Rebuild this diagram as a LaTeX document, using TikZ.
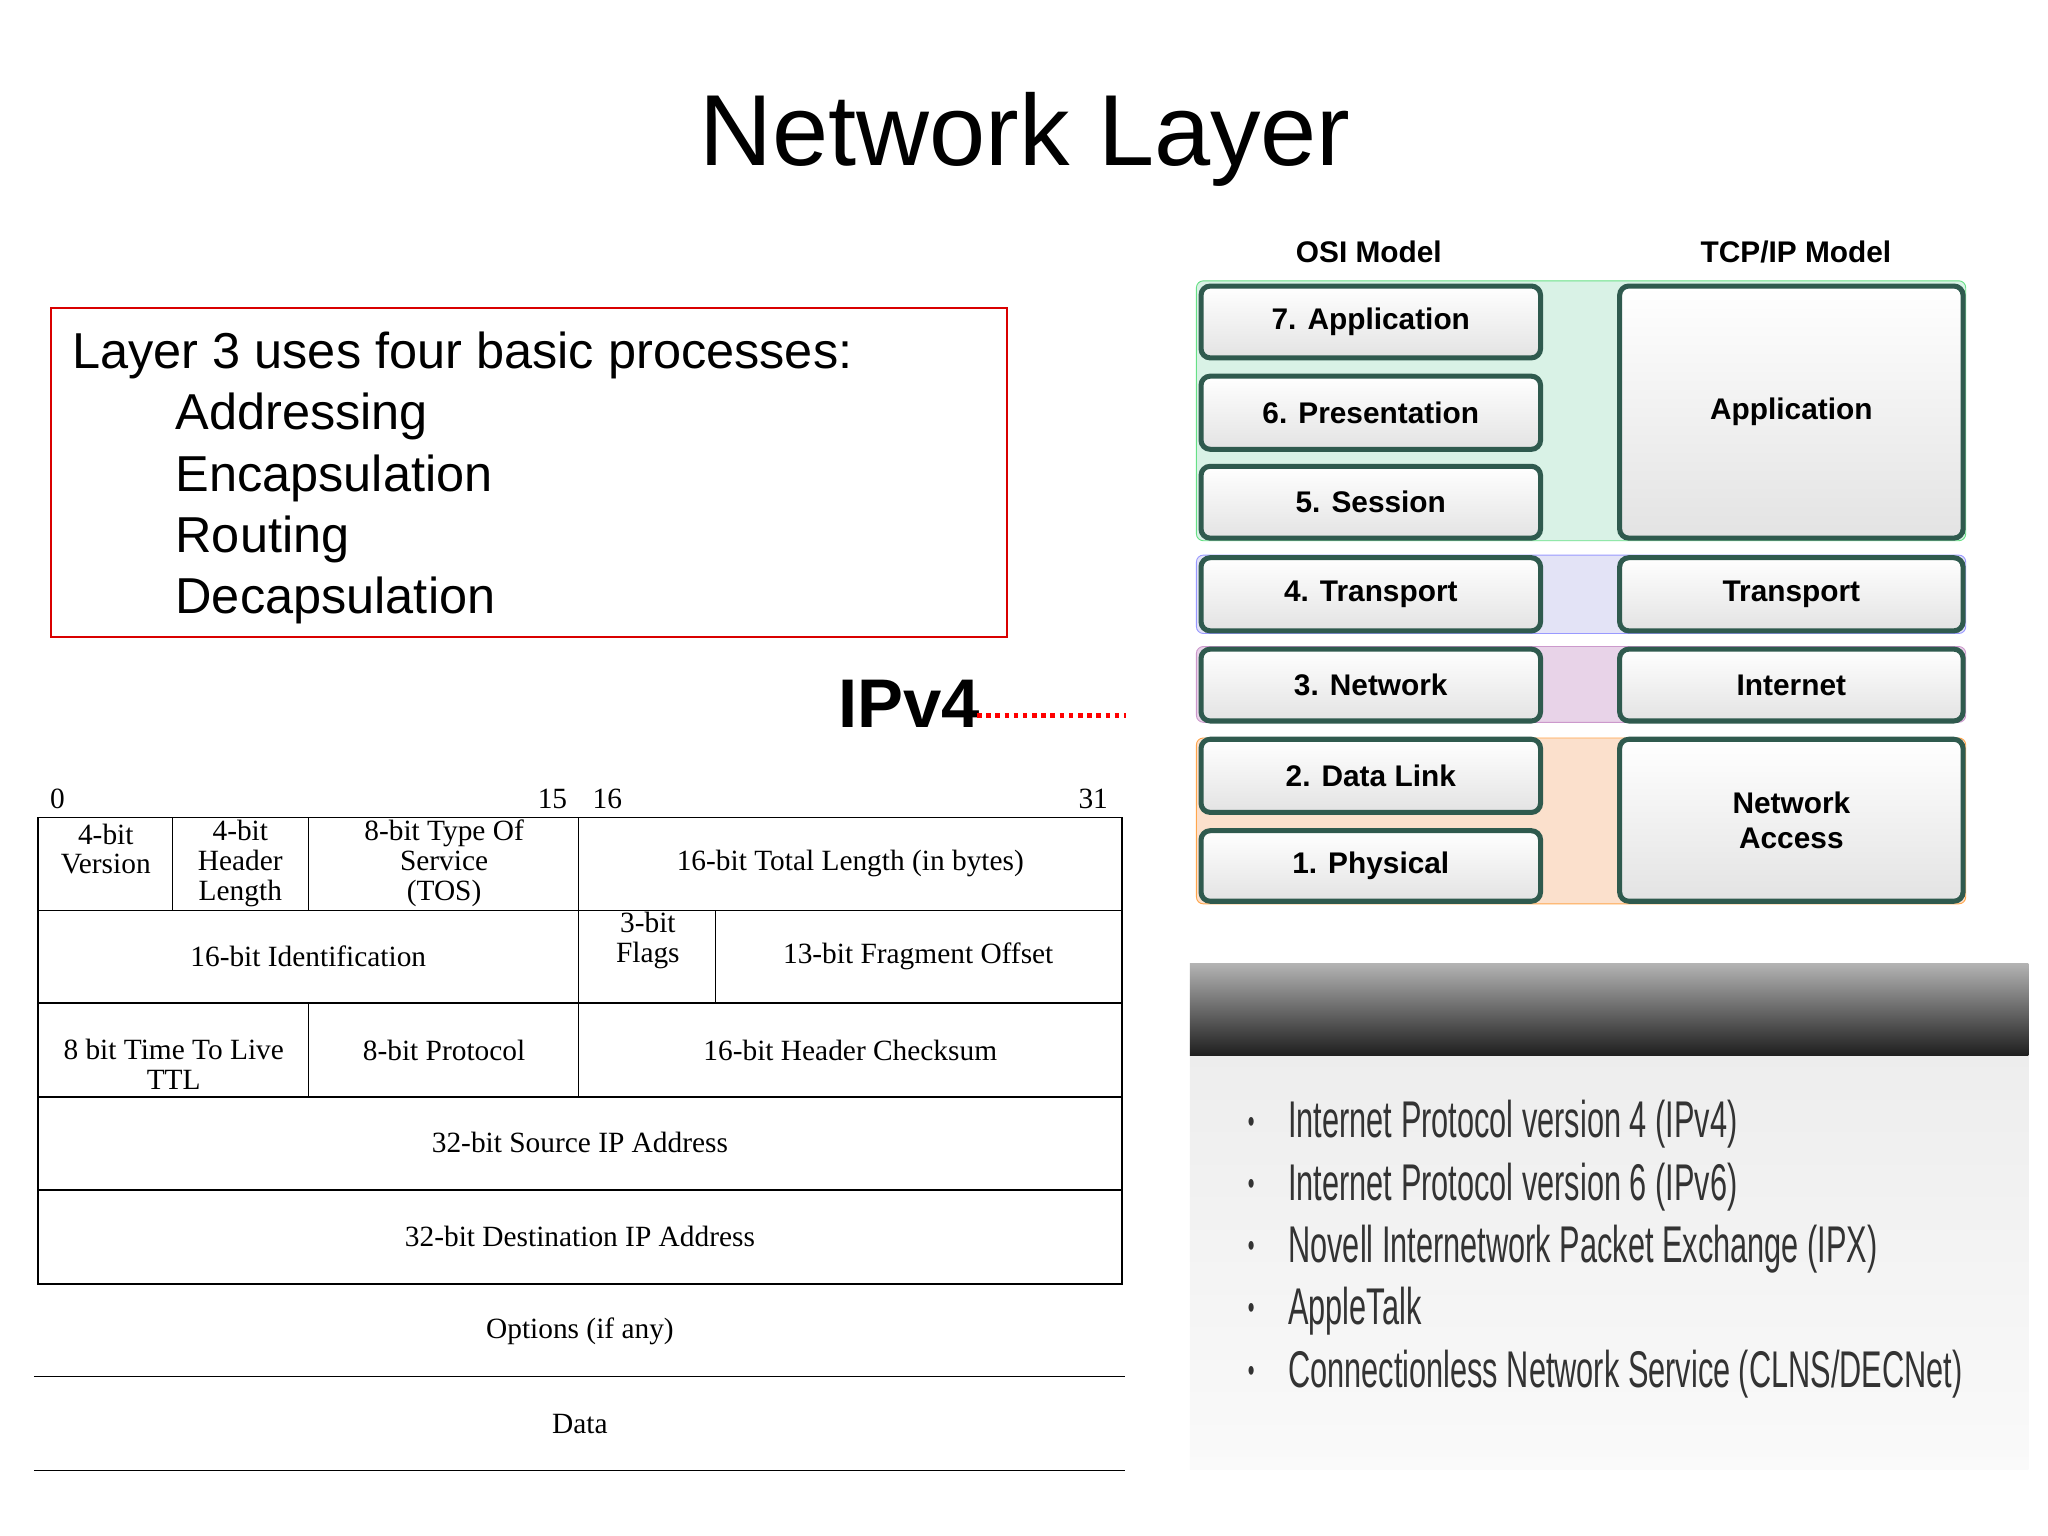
\documentclass[tikz,border=0pt]{standalone}
\usepackage{fontspec}
\setmainfont{Liberation Sans}
\newfontfamily\seriffont{Liberation Serif}
\newfontfamily\narrowfont{Liberation Sans}[FakeStretch=0.595]
\usetikzlibrary{positioning}
\definecolor{layerbdr}{HTML}{2F5A4E}
\definecolor{appband}{HTML}{D9F2E6}
\definecolor{trband}{HTML}{E3E3F6}
\definecolor{netband}{HTML}{E8D3E8}
\definecolor{linkband}{HTML}{FBE0CC}
\tikzset{
  layer/.style={draw=layerbdr, line width=2.2pt, rounded corners=4pt,
    top color=white, bottom color=gray!22, font=\bfseries\fontsize{13}{15}\selectfont,
    align=center, inner sep=0pt},
  cell/.style={font=\seriffont\fontsize{12.8}{13}\selectfont, align=center, inner sep=0pt},
  bullet/.style={font=\narrowfont\fontsize{22.5}{26}\selectfont, anchor=west, inner sep=0pt, text=black!80}
}
\begin{document}
\begin{tikzpicture}[x=0.02cm, y=-0.02cm]
\useasboundingbox (0,0) rectangle (1568,1176);
% title
\node (title) at (785,107) {\fontsize{44}{48}\selectfont Network Layer};
% processes box
\draw[red!85!black, line width=0.8pt] (39,236) rectangle (771,488);
\node[anchor=base west, inner sep=0pt] (proc) at (55,282) {\fontsize{22}{26}\selectfont Layer 3 uses four basic processes:};
\foreach \t [count=\i] in {Addressing, Encapsulation, Routing, Decapsulation}
  \node[anchor=base west, inner sep=0pt] (p\i) at (134,282+47*\i) {\fontsize{22}{26}\selectfont \t};
% IPv4 label
\node[inner sep=0pt] (ipv) at (696,539) {\bfseries\fontsize{30}{32}\selectfont IPv4};
\coordinate (dotend) at (862,548);
\draw[red, line width=2pt, dotted] (748,548) -- (dotend);
% header table
\foreach \x/\t in {44/0, 423/15, 465/16, 837/31}
  \node[cell] (bit\t) at (\x,612) {\t};
\draw[line width=0.6pt] (29,626) -- (859,626) -- (859,983) -- (29,983) -- cycle;
\foreach \y in {697,768,840,911}
  \draw[line width=0.6pt] (29,\y) -- (859,\y);
\draw[line width=0.6pt] (132,626) -- (132,697) (236,626) -- (236,697)
  (443,626) -- (443,840) (548,697) -- (548,768) (236,768) -- (236,840);
\draw[line width=0.6pt] (26,1054) -- (861,1054) (26,1126) -- (861,1126);
\node[cell] (ver) at (81,650) {4-bit\\Version};
\node[cell] (hl) at (184,661) {4-bit\\Header\\Length};
\node[cell] (tos) at (340,661) {8-bit Type Of\\Service\\(TOS)};
\node[cell] (tl) at (651,661) {16-bit Total Length (in bytes)};
\node[cell] (ident) at (236,732) {16-bit Identification};
\node[cell] (flags) at (496,720) {3-bit\\Flags};
\node[cell] (frag) at (703,732) {13-bit Fragment Offset};
\node[cell] (ttl) at (133,815) {8 bit Time To Live\\TTL};
\node[cell] (prot) at (340,804) {8-bit Protocol};
\node[cell] (csum) at (651,804) {16-bit Header Checksum};
\node[cell] (src) at (444,875) {32-bit Source IP Address};
\node[cell] (dst) at (444,947) {32-bit Destination IP Address};
\node[cell] (opt) at (444,1019) {Options (if any)};
\node[cell] (data) at (444,1090) {Data};
% OSI / TCP-IP
\node[font=\bfseries\fontsize{13}{15}\selectfont] (osih) at (1048,193) {OSI Model};
\node[font=\bfseries\fontsize{13}{15}\selectfont] (tcph) at (1375,193) {TCP/IP Model};
\draw[green!60!teal!60, fill=appband, rounded corners=3pt] (916,215) rectangle (1505,414);
\draw[blue!40, fill=trband, rounded corners=3pt] (916,425) rectangle (1505,485);
\draw[violet!40, fill=netband, rounded corners=3pt] (916,495) rectangle (1505,553);
\draw[orange!70, fill=linkband, rounded corners=3pt] (916,565) rectangle (1505,692);
\foreach \n/\t/\a/\b in {o7/7. Application/219/274, o6/6. Presentation/288/344,
    o5/5. Session/357/412, o4/4. Transport/427/483, o3/3. Network/497/552,
    o2/2. Data Link/566/622, o1/1. Physical/636/690}
  \node[layer, minimum width=5.2cm, minimum height={(\b-\a)*0.02cm}] (\n) at (1049.5,{(\a+\b)/2}) {\t};
\foreach \n/\t/\a/\b in {ta/Application/219/412, tt/Transport/427/483,
    ti/Internet/497/552, tn/Network\\Access/566/690}
  \node[layer, minimum width=5.26cm, minimum height={(\b-\a)*0.02cm}] (\n) at (1371.5,{(\a+\b)/2}) {\t};
% protocol panel
\shade[top color=gray!14, bottom color=gray!4] (911,808) rectangle (1553,1125);
\shade[top color=gray!60, bottom color=black!88] (911,738) rectangle (1553,808);
\foreach \t [count=\i] in {Internet Protocol version 4 (IPv4), Internet Protocol version 6 (IPv6),
    Novell Internetwork Packet Exchange (IPX), AppleTalk, Connectionless Network Service (CLNS/DECNet)} {
  \node[bullet] (bul\i) at (955,{861+47.7*(\i-1)}) {\fontsize{14}{14}\selectfont\textbullet};
  \node[bullet] (prot\i) at (986,{861+47.7*(\i-1)}) {\t};
}
\end{tikzpicture}
\end{document}
